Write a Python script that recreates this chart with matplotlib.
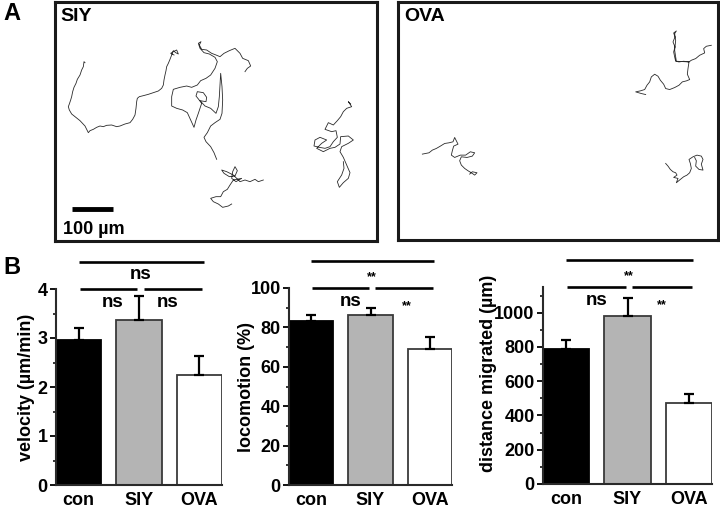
import matplotlib
matplotlib.use("Agg")
import matplotlib.pyplot as plt
from matplotlib.ticker import MultipleLocator
import matplotlib.transforms as mtransforms

plt.rcParams['font.family'] = ['Liberation Sans', 'DejaVu Sans']
plt.rcParams['font.weight'] = 'bold'

# ---------------- data ----------------
groups = ["con", "SIY", "OVA"]
bar_colors = ["#000000", "#b4b4b4", "#ffffff"]
edge_colors = ["#000000", "#3a3a3a", "#3a3a3a"]

velocity = [2.95, 3.37, 2.24]
velocity_err = [0.25, 0.48, 0.39]

locomotion = [83.2, 86.2, 69.2]
locomotion_err = [3.0, 3.6, 5.8]

distance = [790, 978, 470]
distance_err = [48, 105, 55]

velocity_sig = ["ns", "ns", "ns"]       # top(con-OVA), con-SIY, SIY-OVA
locomotion_sig = ["**", "ns", "**"]
distance_sig = ["**", "ns", "**"]

# cell tracks (tracing units; scale bar 125 units = 100 um)
siy_tracks = [
    [(255,188),(252,185),(250,200),(245,210),(240,225),(232,238),(228,250),(222,262),(218,275),(215,290),
     (212,300),(208,312),(205,320),(208,330),(215,342),(225,350),(240,362),(255,378),(265,398),(270,392),
     (280,388),(290,382),(300,378),(310,380),(320,376),(335,375),(350,380),(360,378),(375,372),(390,368),
     (398,358),(405,345),(408,325),(410,305),(412,295),(418,290),(430,287),(445,283),(460,278),(475,273),
     (485,265),(490,255),(492,240),(495,225),(498,212),(500,200),(505,190),(510,178),(515,165),(520,152),
     (527,158),(535,162),(530,150),(520,155),(512,160),(522,165)],
    [(735,215),(742,205),(752,198),(745,182),(728,175),(720,160),(705,145),(688,152),(672,160),(660,170),
     (648,165),(635,160),(620,150),(605,148),(598,135),(603,125),(595,130),(600,145),(612,158),(628,162),
     (645,172),(652,185),(645,205),(632,225),(618,235),(602,242),(592,255),(575,262),(560,258),(540,262),
     (520,268),(515,290),(515,318),(530,325),(548,330),(562,338),(572,360),(582,382),(588,360),(595,340),
     (605,310),(596,298),(588,288),(592,275),(610,278),(620,292),(618,305),(600,302),(615,318),(632,325),
     (648,340),(655,320),(658,290),(660,255),(662,220),(666,260),(668,300),(666,340),(660,358),(645,368),
     (632,378),(622,398),(612,412),(618,425),(632,440),(642,458),(650,478)],
    [(790,540),(775,545),(765,538),(750,545),(735,540),(720,545),(710,535),(700,525),(690,520),(680,515),
     (665,510),(672,520),(688,530),(705,528),(712,512),(705,500),(698,515),(695,535),(708,545),(725,535),
     (700,540),(690,555),(682,568),(670,575),(662,590),(648,590),(632,595),(640,605),(655,612),(668,622),
     (685,618),(695,612)],
    [(1052,312),(1045,305),(1055,320),(1040,325),(1030,335),(1022,350),(1012,362),(1000,375),(985,368),
     (975,388),(995,395),(1008,392),(1012,412),(1000,425),(990,440),(975,445),(958,442),(942,438),(945,420),
     (960,412),(980,420),(965,430),(950,445),(970,455),(990,445),(1005,442),(1020,432),(1022,410),(1045,408),
     (1060,420),(1045,430),(1025,440),(1020,455),(1030,472),(1040,495),(1050,518),(1045,535),(1030,548),
     (1018,562),(1012,545),(1025,525),(1032,505),(1030,485)],
]

ova_tracks = [
    [(965,135),(950,138),(942,145),(945,158),(930,165),(918,175),(905,180),(898,185),(882,183),(868,185),
     (858,183),(855,170),(852,155),(856,140),(850,125),(856,110),(852,98),(860,92),(855,100),(858,120),
     (855,150),(860,183),(898,185),(895,205),(893,222),(900,238),(890,242),(878,245),(868,255),(855,262),
     (840,268),(828,265),(822,252),(812,240),(805,228),(795,222),(785,230),(780,245),(772,255),(765,268),
     (752,272),(738,275),(755,280),(768,283)],
    [(98,462),(108,460),(118,458),(128,450),(140,445),(152,438),(165,430),(178,428),(190,425),(195,412),
     (200,422),(205,432),(192,438),(188,452),(185,465),(195,472),(212,465),(228,465),(242,455),(255,458),
     (248,468),(232,472),(215,470),(210,482),(215,495),(225,505),(235,512),(245,518),(255,525),(262,518),
     (248,515),(240,522)],
    [(828,490),(835,498),(842,508),(850,515),(858,518),(862,525),(852,532),(865,535),(860,548),(872,538),
     (882,530),(892,525),(900,518),(905,505),(902,490),(898,478),(910,470),(922,465),(935,468),(940,478),
     (935,492),(940,510),(928,508),(918,498),(920,482),(915,472)],
]

# ---------------- layout ----------------
W, H = 720, 515
fig = plt.figure(figsize=(7.2, 5.15), dpi=100)


def rect(x0, y0, x1, y1):
    return [x0 / W, 1 - y1 / H, (x1 - x0) / W, (y1 - y0) / H]


def track_panel(r, xlim, ylim, tracks, title, scalebar=False):
    ax = fig.add_axes(r)
    for tr in tracks:
        xs = [p[0] for p in tr]
        ys = [p[1] for p in tr]
        ax.plot(xs, ys, color="#2a2a2a", lw=0.6)
    ax.set_xlim(*xlim)
    ax.set_ylim(*ylim)
    ax.set_xticks([])
    ax.set_yticks([])
    for s in ax.spines.values():
        s.set_linewidth(2.2)
        s.set_color("#1a1a1a")
    ax.text(0.018, 0.975, title, transform=ax.transAxes, ha="left", va="top",
            fontsize=14, fontweight="bold")
    if scalebar:
        ax.plot([215, 340], [628, 628], color="black", lw=3.5, solid_capstyle="butt")
        ax.text(188, 690, "100 µm", ha="left", va="center", fontsize=13, fontweight="bold")
    return ax


track_panel(rect(55, 2, 377, 241), (165, 1131), (723, 6), siy_tracks, "SIY", scalebar=True)
track_panel(rect(398, 2, 718, 240), (25, 985), (720, 5), ova_tracks, "OVA")

fig.text(3 / W, 1 - 14 / H, "A", fontsize=17, fontweight="bold", ha="left", va="center")
fig.text(3 / W, 1 - 268 / H, "B", fontsize=17, fontweight="bold", ha="left", va="center")


def bar_panel(r, vals, errs, ylim, major, minor, ylabel, label_x, label_y, sig, lower_pos):
    ax = fig.add_axes(r)
    x = list(range(len(groups)))
    ax.bar(x, vals, width=0.75, color=bar_colors, edgecolor=edge_colors, linewidth=1.3, zorder=2)
    ax.errorbar(x, vals, yerr=[[0] * len(vals), errs], fmt="none", ecolor="black",
                elinewidth=1.6, capsize=3.5, capthick=1.6, zorder=3)
    ax.set_xlim(-0.375, 2.375)
    ax.set_ylim(*ylim)
    ax.yaxis.set_major_locator(MultipleLocator(major))
    ax.yaxis.set_minor_locator(MultipleLocator(minor))
    ax.set_xticks(x)
    ax.set_xticklabels(groups, fontsize=13, fontweight="bold")
    ax.tick_params(axis="x", length=0, pad=5)
    ax.tick_params(axis="y", which="major", length=4, width=1.3, direction="out", pad=2,
                   labelsize=13)
    ax.tick_params(axis="y", which="minor", length=2.5, width=1.1, direction="out")
    for lab in ax.get_yticklabels():
        lab.set_fontweight("bold")
    for s in ["top", "right"]:
        ax.spines[s].set_visible(False)
    for s in ["left", "bottom"]:
        ax.spines[s].set_linewidth(1.5)
        ax.spines[s].set_color("#2a2a2a")
    ax.set_ylabel(ylabel, fontsize=13, fontweight="bold")
    ax.yaxis.set_label_coords(label_x, label_y)

    tr = mtransforms.blended_transform_factory(ax.transData, ax.transAxes)
    kw = dict(color="black", lw=1.9, transform=tr, clip_on=False, solid_capstyle="butt")
    ax.plot([0.0, 2.07], [1.137, 1.137], **kw)
    ax.plot([0.02, 0.97], [1.0, 1.0], **kw)
    ax.plot([1.08, 2.05], [1.0, 1.0], **kw)

    def sig_text(xp, yp, s):
        if s == "ns":
            ax.text(xp, yp, s, transform=tr, ha="center", va="center", fontsize=13.5,
                    fontweight="bold")
        else:
            ax.text(xp, yp - 0.02, s, transform=tr, ha="center", va="center", fontsize=9,
                    fontweight="bold")

    sig_text(1.02, 1.075, sig[0])
    sig_text(lower_pos[0], 0.93, sig[1])
    sig_text(lower_pos[1], 0.93, sig[2])
    return ax


bar_panel(rect(56, 289, 222, 485), velocity, velocity_err, (0, 4), 1, 0.5,
          "velocity (µm/min)", -0.125, 0.5, velocity_sig, (0.57, 1.48))
bar_panel(rect(289, 288, 452, 485), locomotion, locomotion_err, (0, 100), 20, 10,
          "locomotion (%)", -0.21, 0.5, locomotion_sig, (0.67, 1.62))
bar_panel(rect(543, 287, 712, 484), distance, distance_err, (0, 1150), 200, 100,
          "distance migrated (µm)", -0.27, 0.56, distance_sig, (0.49, 1.56))

fig.savefig("out.png", dpi=100)
